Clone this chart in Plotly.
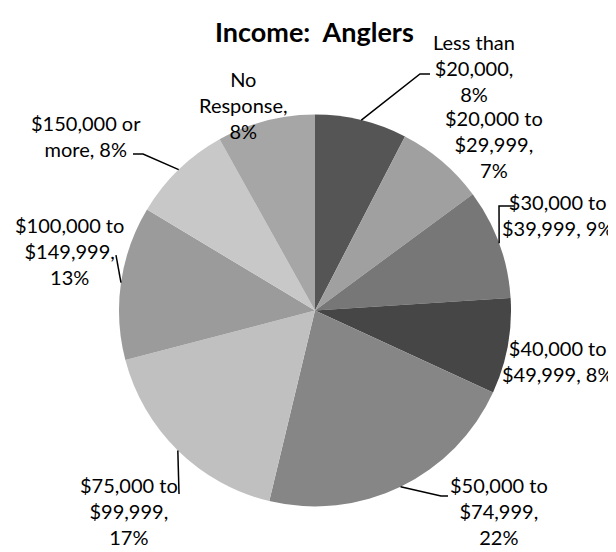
import math
import plotly.graph_objects as go

# Income categories for anglers, shares (percent)
categories = ["Less than $20,000", "$20,000 to $29,999", "$30,000 to $39,999",
              "$40,000 to $49,999", "$50,000 to $74,999", "$75,000 to $99,999",
              "$100,000 to $149,999", "$150,000 or more", "No Response"]
shares = [7.6, 7.3, 9.1, 7.9, 21.9, 17.2, 12.7, 8.3, 8.1]
label_templates = ["Less than<br>$20,000,<br>{p}%", "$20,000 to<br>$29,999,<br>{p}%",
                   "$30,000 to<br>$39,999, {p}%", "$40,000 to<br>$49,999, {p}%",
                   "$50,000 to<br>$74,999,<br>{p}%", "$75,000 to<br>$99,999,<br>{p}%",
                   "$100,000 to<br>$149,999,<br>{p}%", "$150,000 or<br>more, {p}%",
                   "No<br>Response,<br>{p}%"]
slice_colors = ["#555555", "#a0a0a0", "#777777", "#464646", "#868686",
                "#c0c0c0", "#9b9b9b", "#c8c8c8", "#a6a6a6"]

W, H = 616, 552
CX, CY, R = 307, 302.5, 196  # pie centre and radius in pixels

# label centre positions (px) and leader line path after the pie edge (px)
label_pos = [(466, 60), (486, 136), (549, 207), (549, 353), (491, 503),
             (121, 503), (61, 243), (78, 128), (235, 97)]
leaders = {0: [(412, 66), (422, 66)], 2: [(491, 198), (506, 198)],
           4: [(433, 488), (440, 488)], 5: [(171, 486)],
           6: [(108, 247)], 7: [(135, 146), (125, 146)]}


def px(x, y):
    return x / W, 1 - y / H


fig = go.Figure(go.Pie(
    labels=categories,
    values=shares,
    sort=False,
    direction="clockwise",
    rotation=0,
    textinfo="none",
    hoverinfo="label+percent",
    marker=dict(colors=slice_colors, line=dict(width=0)),
    domain=dict(x=[(CX - R) / W, (CX + R) / W], y=[1 - (CY + R) / H, 1 - (CY - R) / H]),
    showlegend=False,
))

total = sum(shares)
annotations = []
shapes = []
cum = 0
for i, v in enumerate(shares):
    mid = (cum + v / 2) / total * 2 * math.pi
    cum += v
    pct = round(v / total * 100)
    lx, ly = label_pos[i]
    annotations.append(dict(
        x=lx / W, y=1 - ly / H, xref="paper", yref="paper",
        text=label_templates[i].format(p=pct), showarrow=False,
        xanchor="center", yanchor="middle", align="center",
        font=dict(size=20, color="#000000"),
    ))
    if i in leaders:
        pts = [(CX + R * math.sin(mid), CY - R * math.cos(mid))] + leaders[i]
        path = ""
        for j, (x, y) in enumerate(pts):
            a, b = px(x, y)
            path += ("M" if j == 0 else " L") + f" {a:.4f},{b:.4f}"
        shapes.append(dict(type="path", path=path, xref="paper", yref="paper",
                           line=dict(color="#000000", width=1.5)))

annotations.append(dict(
    x=306 / W, y=1 - 24 / H, xref="paper", yref="paper",
    text="<b>Income:  Anglers</b>", showarrow=False,
    xanchor="center", yanchor="middle",
    font=dict(size=27, color="#000000"),
))

fig.update_layout(
    width=W, height=H,
    margin=dict(l=0, r=0, t=0, b=0),
    paper_bgcolor="white",
    plot_bgcolor="white",
    font=dict(family="Lato, Arial, sans-serif"),
    annotations=annotations,
    shapes=shapes,
)

fig.write_html("out.html")
